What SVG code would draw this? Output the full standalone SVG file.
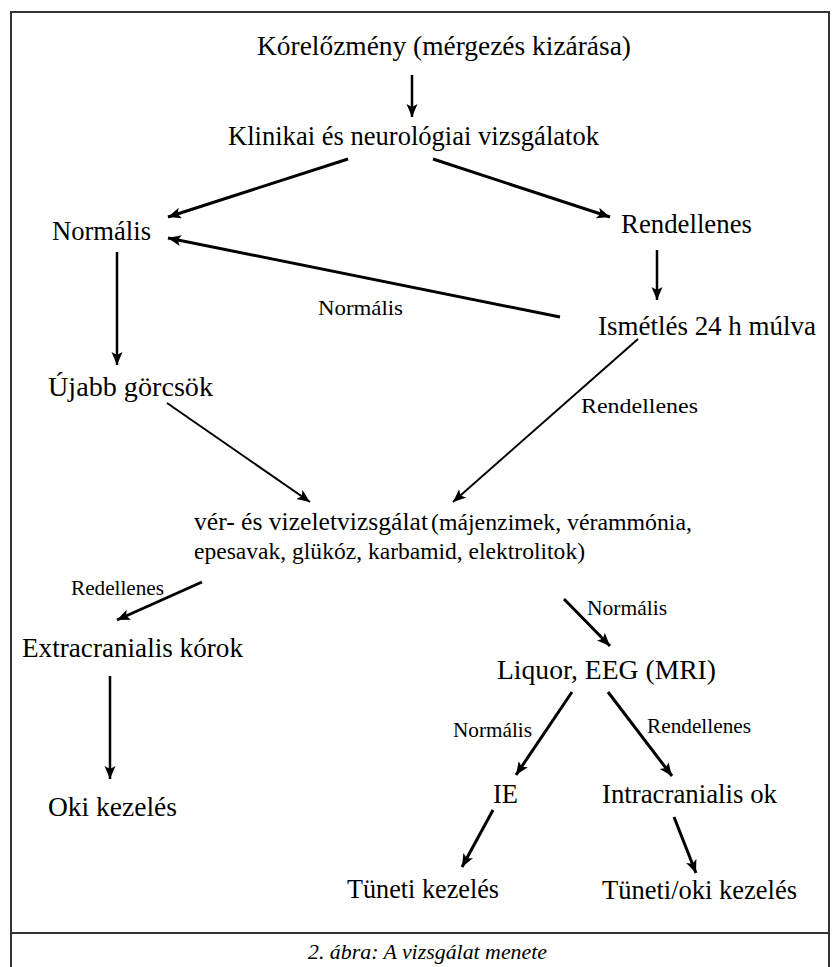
<svg xmlns="http://www.w3.org/2000/svg" width="832" height="967" viewBox="0 0 832 967">
<style>
.t{font-size:27px}
.s{font-size:21px}
.m{font-size:23.5px}
.cap{font-size:21px;font-style:italic}
.frame{stroke:#333;stroke-width:2;fill:none}
.a{stroke:#000;fill:none;marker-end:url(#ah)}
.w3{stroke-width:3}
.w25{stroke-width:2.5}
.w2{stroke-width:2}
</style>
<defs>
<marker id="ah" markerUnits="userSpaceOnUse" markerWidth="14" markerHeight="12" refX="13" refY="5.5" orient="auto">
<path d="M0,0 L13,5.5 L0,11 L3,5.5 z" fill="#000"/>
</marker>
</defs>
<rect x="0" y="0" width="832" height="967" fill="#fff"/>
<g id="frame">
<path class="frame" d="M11,975 L11,12 L829,12 L829,975"/>
<path class="frame" d="M11,933 L829,933"/>
</g>
<g id="connectors">
<line class="a w25" x1="412" y1="75" x2="412" y2="117"/>
<line class="a w3" x1="348" y1="159" x2="168" y2="217"/>
<line class="a w3" x1="433" y1="159" x2="610" y2="217"/>
<line class="a w3" x1="560" y1="317" x2="168" y2="238"/>
<line class="a w25" x1="657" y1="250" x2="657" y2="300"/>
<line class="a w25" x1="117" y1="252" x2="117" y2="365"/>
<line class="a w2" x1="167" y1="403" x2="310" y2="502"/>
<line class="a w2" x1="638" y1="339" x2="453" y2="502"/>
<line class="a w3" x1="202" y1="582" x2="117" y2="620"/>
<line class="a w25" x1="110" y1="676" x2="110" y2="779"/>
<line class="a w3" x1="564" y1="599" x2="610" y2="646"/>
<line class="a w3" x1="572" y1="692" x2="516" y2="775"/>
<line class="a w3" x1="608" y1="692" x2="672" y2="776"/>
<line class="a w3" x1="493" y1="810" x2="462" y2="867"/>
<line class="a w3" x1="674" y1="817" x2="696" y2="873"/>
</g>
<g font-family="Liberation Serif, Times New Roman, DejaVu Serif, serif" fill="#000">
<g id="labels">
<text class="s" x="318" y="315" textLength="85" lengthAdjust="spacingAndGlyphs" font-size="22">Normális</text>
<text class="s" x="581" y="413" textLength="117" lengthAdjust="spacingAndGlyphs" font-size="22">Rendellenes</text>
<text class="s" x="71" y="595" textLength="93" lengthAdjust="spacingAndGlyphs">Redellenes</text>
<text class="s" x="587" y="615" textLength="80" lengthAdjust="spacingAndGlyphs">Normális</text>
<text class="s" x="453" y="737" textLength="79" lengthAdjust="spacingAndGlyphs">Normális</text>
<text class="s" x="647" y="733" textLength="104" lengthAdjust="spacingAndGlyphs">Rendellenes</text>
</g>
<g id="n-korelozmeny"><text class="t" x="257" y="55" textLength="374" lengthAdjust="spacingAndGlyphs">Kórelőzmény (mérgezés kizárása)</text></g>
<g id="n-klinikai"><text class="t" x="228" y="145" textLength="371" lengthAdjust="spacingAndGlyphs">Klinikai és neurológiai vizsgálatok</text></g>
<g id="n-normalis"><text class="t" x="52" y="240" textLength="99" lengthAdjust="spacingAndGlyphs">Normális</text></g>
<g id="n-rendellenes"><text class="t" x="621" y="233" textLength="131" lengthAdjust="spacingAndGlyphs">Rendellenes</text></g>
<g id="n-ismetles"><text class="t" x="598" y="335" textLength="218" lengthAdjust="spacingAndGlyphs">Ismétlés 24 h múlva</text></g>
<g id="n-ujabb"><text class="t" x="48" y="396" textLength="165" lengthAdjust="spacingAndGlyphs">Újabb görcsök</text></g>
<g id="n-ver">
<text x="194" y="530" textLength="234" lengthAdjust="spacingAndGlyphs" font-size="25">vér- és vizeletvizsgálat</text>
<text class="m" x="431" y="530" textLength="261" lengthAdjust="spacingAndGlyphs">(májenzimek, vérammónia,</text>
<text class="m" x="194" y="559" textLength="391" lengthAdjust="spacingAndGlyphs">epesavak, glükóz, karbamid, elektrolitok)</text>
</g>
<g id="n-extra"><text class="t" x="22" y="657" textLength="221" lengthAdjust="spacingAndGlyphs">Extracranialis kórok</text></g>
<g id="n-liquor"><text class="t" x="497" y="679" textLength="219" lengthAdjust="spacingAndGlyphs">Liquor, EEG (MRI)</text></g>
<g id="n-oki"><text class="t" x="48" y="816" textLength="129" lengthAdjust="spacingAndGlyphs">Oki kezelés</text></g>
<g id="n-ie"><text class="t" x="493" y="803" textLength="25" lengthAdjust="spacingAndGlyphs">IE</text></g>
<g id="n-intra"><text class="t" x="602" y="803" textLength="175" lengthAdjust="spacingAndGlyphs">Intracranialis ok</text></g>
<g id="n-tuneti"><text class="t" x="347" y="898" textLength="152" lengthAdjust="spacingAndGlyphs">Tüneti kezelés</text></g>
<g id="n-tunetioki"><text class="t" x="602" y="899" textLength="195" lengthAdjust="spacingAndGlyphs">Tüneti/oki kezelés</text></g>
<g id="caption"><text class="cap" x="308" y="959" textLength="239" lengthAdjust="spacingAndGlyphs">2. ábra: A vizsgálat menete</text></g>
</g>
</svg>
